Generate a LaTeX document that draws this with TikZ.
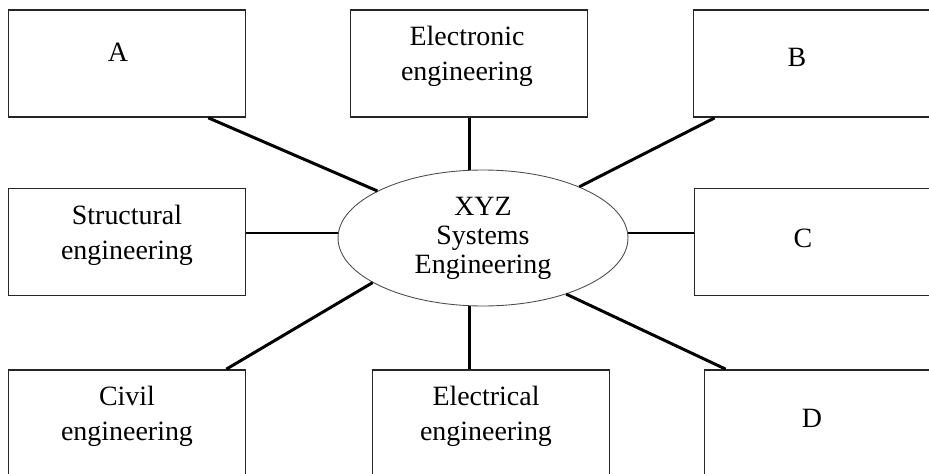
\documentclass[tikz,border=0pt]{standalone}
\usepackage{fontspec}
\setmainfont{Liberation Serif}
\usetikzlibrary{positioning,shapes.geometric,calc}

\begin{document}
\begin{tikzpicture}[x=0.02cm, y=-0.02cm,
  box/.style={draw=black!85, line width=1pt, minimum width=4.74cm, minimum height=2.14cm, inner sep=0pt},
  txt/.style={align=center, font=\fontsize{15.9}{20}\selectfont},
  link/.style={line width=1.7pt}]
  \useasboundingbox (0,0) rectangle (929,473);
  \clip (0,0) rectangle (929,473);

  % Centre ellipse
  \node[draw=black!70, line width=0.5pt, ellipse, minimum width=5.8cm, minimum height=2.72cm, inner sep=0pt, align=center, font=\fontsize{15.9}{16.5}\selectfont] (xyz) at (483,238) {XYZ\\Systems\\Engineering};

  % Top row
  \node[box, label={[txt, xshift=-0.18cm, yshift=0.23cm]center:A}] (boxA) at (127,63.5) {};
  \node[box, label={[txt, xshift=-0.04cm, yshift=0.14cm]center:Electronic\\engineering}] (elec) at (469,63.5) {};
  \node[box, label={[txt, xshift=-0.3cm, yshift=0.13cm]center:B}] (boxB) at (812,63.5) {};

  % Middle row
  \node[box, label={[txt, yshift=0.13cm]center:Structural\\engineering}] (struct) at (127,242) {};
  \node[box, label={[txt, xshift=-0.2cm, yshift=0.08cm]center:C}] (boxC) at (813,242) {};

  % Bottom row (cut by the page edge)
  \node[box, label={[txt, yshift=0.14cm]center:Civil\\engineering}] (civil) at (127,423.5) {};
  \node[box, label={[txt, xshift=-0.1cm, yshift=0.14cm]center:Electrical\\engineering}] (elecl) at (491,423.5) {};
  \node[box, label={[txt, xshift=-0.22cm, yshift=0.11cm]center:D}] (boxD) at (823,423.5) {};

  % Connector end points on the boxes
  \coordinate (pA) at ($(boxA.south east)+(-38,0)$);
  \coordinate (pB) at ($(boxB.south west)+(22,0)$);
  \coordinate (pS) at ($(struct.east)+(0,-9)$);
  \coordinate (pC) at ($(boxC.west)+(0,-9)$);
  \coordinate (pCi) at ($(civil.north east)+(-20,0)$);
  \coordinate (pD) at ($(boxD.north west)+(22,0)$);

  % Spokes
  \draw[link] (pA) -- (xyz.156);
  \draw[link] (elec.south) -- (elec.south |- xyz.north);
  \draw[link] (pB) -- (xyz.28);
  \draw[link] (pS) -- (pS -| xyz.west);
  \draw[link] (pC) -- (pC -| xyz.east);
  \draw[link] (pCi) -- (xyz.202);
  \draw[link] (xyz.south -| elec.south) -- (elec.south |- elecl.north);
  \draw[link] (pD) -- (xyz.326);
\end{tikzpicture}
\end{document}
